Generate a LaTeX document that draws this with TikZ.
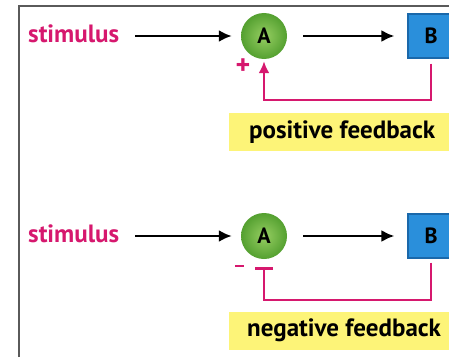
\documentclass[tikz,border=0pt]{standalone}
\usepackage{fontspec}
\setmainfont{PT Sans}
\usepackage{xcolor}
\usetikzlibrary{arrows.meta,positioning,calc}
\definecolor{stimpink}{RGB}{214,24,110}
\definecolor{fbyellow}{RGB}{253,244,120}
\definecolor{boxblue}{RGB}{42,143,219}
\definecolor{boxedge}{RGB}{26,104,170}
\definecolor{ballin}{RGB}{150,206,98}
\definecolor{ballout}{RGB}{84,160,48}
\definecolor{framegray}{RGB}{90,90,90}

\begin{document}
\begin{tikzpicture}[
  x=1pt,y=1pt,
  font=\fontsize{25}{28}\selectfont\bfseries,
  stim/.style={text=stimpink,inner sep=0pt},
  ballA/.style={circle,minimum size=46pt,inner sep=0pt,shading=radial,inner color=ballin,outer color=ballout,font=\fontsize{22}{24}\selectfont\bfseries},
  boxB/.style={draw=boxedge,line width=1.2pt,fill=boxblue,minimum width=46pt,minimum height=44pt,inner sep=0pt,font=\fontsize{22}{24}\selectfont\bfseries},
  fbbox/.style={fill=fbyellow,minimum height=38pt,minimum width=241pt,inner sep=0pt},
  arr/.style={line width=2.4pt,-{Latex[length=13pt,width=12pt]}},
  fbline/.style={stimpink,line width=2.6pt},
  sign/.style={text=stimpink,inner sep=0pt,font=\fontsize{28}{30}\selectfont\bfseries}
]
\useasboundingbox (0,0) rectangle (449,357);
% frame
\draw[framegray,line width=1.3pt] (19,0) -- (19,351) -- (449,351);

% positive loop
\node[ballA] (posA) at (264,321) {A};
\node[boxB] (posB) at (431,321) {B};
\node[stim,anchor=west] (posS) at (28,323) {stimulus};
\draw[arr] (posS.east |- posA) ++(16,0) -- ($(posA.west)+(-9,0)$);
\draw[arr] ($(posA.east)+(16,0)$) -- ($(posB.west)+(-13,0)$);
\coordinate (posT) at ($(posA.south)+(0,-2)$);
\coordinate (posL) at (431,257);
\draw[fbline,-{Latex[length=12pt,width=11pt]}] ($(posB.south)+(0,-5)$) -- (posL) -| (posT);
\node[sign] (posP) at (243,290) {+};
\node[fbbox,anchor=north west] (posF) at (229,244) {};
\node[anchor=west,inner sep=0pt] (posFt) at (249,225) {positive feedback};

% negative loop
\node[ballA] (negA) at (264,121) {A};
\node[boxB] (negB) at (431,121) {B};
\node[stim,anchor=west] (negS) at (28,123) {stimulus};
\draw[arr] (negS.east |- negA) ++(16,0) -- ($(negA.west)+(-9,0)$);
\draw[arr] ($(negA.east)+(16,0)$) -- ($(negB.west)+(-13,0)$);
\coordinate (negT) at (264,90);
\coordinate (negL) at (431,57);
\draw[fbline,-{Bar[width=18pt]}] ($(negB.south)+(0,-4)$) -- (negL) -| (negT);
\draw[fbline] (235,91) -- (244,91);
\node[fbbox,anchor=north west] (negF) at (229,45) {};
\node[anchor=west,inner sep=0pt] (negFt) at (247,27) {negative feedback};
\end{tikzpicture}
\end{document}
